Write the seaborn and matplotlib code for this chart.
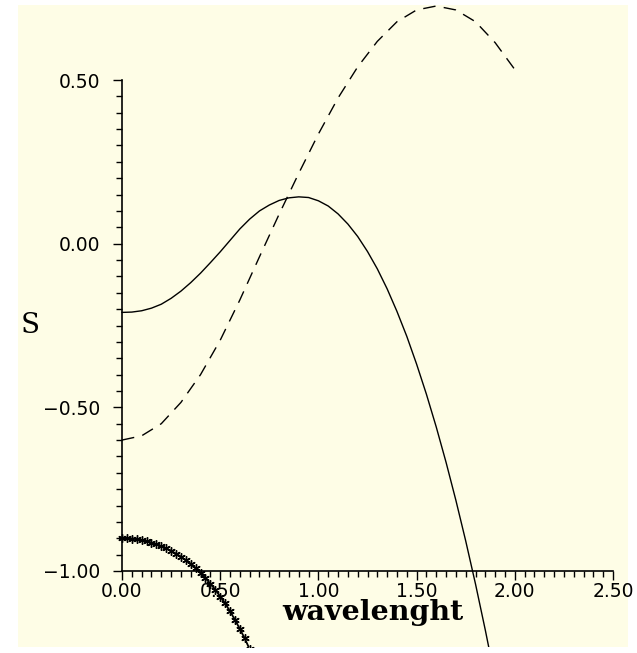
import matplotlib
matplotlib.use("Agg")
import matplotlib.pyplot as plt
from matplotlib.patches import Rectangle
from matplotlib.ticker import MultipleLocator, FuncFormatter
import seaborn as sns

# values
x_solid = [0.00, 0.05, 0.10, 0.15, 0.20, 0.25, 0.30, 0.35, 0.40, 0.45,
           0.50, 0.55, 0.60, 0.65, 0.70, 0.75, 0.80, 0.85, 0.90, 0.95,
           1.00, 1.05, 1.10, 1.15, 1.20, 1.25, 1.30, 1.35, 1.40, 1.45,
           1.50, 1.55, 1.60, 1.65, 1.70, 1.75, 1.80, 1.85, 1.90]
y_solid = [-0.210, -0.209, -0.205, -0.197, -0.185, -0.167, -0.145, -0.119, -0.090, -0.058,
           -0.025, 0.010, 0.045, 0.075, 0.100, 0.118, 0.132, 0.140, 0.143, 0.141,
           0.131, 0.115, 0.091, 0.060, 0.022, -0.024, -0.077, -0.138, -0.207, -0.283,
           -0.368, -0.460, -0.560, -0.668, -0.784, -0.908, -1.040, -1.181, -1.330]

x_dash = [0.0, 0.1, 0.2, 0.3, 0.4, 0.5, 0.6, 0.7, 0.8, 0.9, 1.0,
          1.1, 1.2, 1.3, 1.4, 1.5, 1.6, 1.7, 1.8, 1.9, 2.0]
y_dash = [-0.600, -0.587, -0.550, -0.485, -0.400, -0.295, -0.172, -0.040, 0.090, 0.215, 0.335,
          0.445, 0.540, 0.618, 0.678, 0.714, 0.726, 0.714, 0.678, 0.614, 0.532]

x_star = [0.000, 0.025, 0.050, 0.075, 0.100, 0.125, 0.150, 0.175, 0.200, 0.225,
          0.250, 0.275, 0.300, 0.325, 0.350, 0.375, 0.400, 0.425, 0.450, 0.475,
          0.500, 0.525, 0.550, 0.575, 0.600, 0.625, 0.650, 0.675]
y_star = [-0.900, -0.900, -0.901, -0.903, -0.906, -0.909, -0.913, -0.918, -0.924, -0.931,
          -0.938, -0.947, -0.956, -0.967, -0.979, -0.992, -1.006, -1.022, -1.039, -1.057,
          -1.078, -1.099, -1.123, -1.149, -1.177, -1.206, -1.239, -1.273]

W, H = 637, 653
fig = plt.figure(figsize=(W / 100, H / 100), dpi=100, facecolor="white")

# pale yellow drawing area, curves are clipped to it
bg = Rectangle((18 / W, 1 - 647 / H), 610 / W, 642 / H, transform=fig.transFigure,
               facecolor="#fefde6", edgecolor="none", zorder=-10)
fig.patches.append(bg)

ax = fig.add_axes([122 / W, 1 - 571 / H, 491 / W, 491 / H])
ax.set_facecolor("none")

sns.lineplot(x=x_solid, y=y_solid, ax=ax, color="black", lw=1.0, sort=False, estimator=None)
n = len(ax.lines)
sns.lineplot(x=x_dash, y=y_dash, ax=ax, color="black", lw=1.0, sort=False, estimator=None)
for ln in ax.lines[n:]:
    ln.set_dashes((9, 6))
sns.lineplot(x=x_star, y=y_star, ax=ax, color="black", lw=1.3, sort=False, estimator=None,
             marker=(6, 2, 0), markersize=6, markeredgewidth=1.0,
             markeredgecolor="black", markerfacecolor="black")
for ln in ax.lines:
    ln.set_clip_path(bg)

ax.set_xlim(0, 2.5)
ax.set_ylim(-1, 0.5)
for s in ["top", "right"]:
    ax.spines[s].set_visible(False)
for s in ["left", "bottom"]:
    ax.spines[s].set_linewidth(1.2)

fmt = FuncFormatter(lambda v, p: f"{v:.2f}".replace("-", "\u2212"))
ax.xaxis.set_major_locator(MultipleLocator(0.5))
ax.xaxis.set_minor_locator(MultipleLocator(0.05))
ax.yaxis.set_major_locator(MultipleLocator(0.5))
ax.yaxis.set_minor_locator(MultipleLocator(0.05))
ax.xaxis.set_major_formatter(fmt)
ax.yaxis.set_major_formatter(fmt)
ax.tick_params(axis="both", which="major", direction="out", length=6.5, width=1.0,
               labelsize=13.5, color="black")
ax.tick_params(axis="both", which="minor", direction="out", length=4, width=1.0)
ax.tick_params(axis="x", which="major", pad=1.5)
ax.tick_params(axis="y", which="major", pad=9)

ax.set_xlabel("wavelenght", family="DejaVu Serif", weight="bold", fontsize=20.5, va="center")
ax.xaxis.set_label_coords(0.511, -0.0855)
ax.set_ylabel("S", family="DejaVu Serif", fontsize=20, rotation=0, va="center", ha="center")
ax.yaxis.set_label_coords(-0.187, 0.5)

fig.savefig("out.png", dpi=100, facecolor="white")
